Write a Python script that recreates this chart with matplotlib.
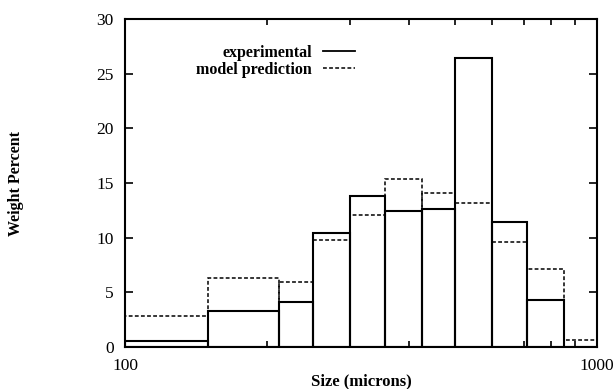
import matplotlib
matplotlib.use("Agg")
import matplotlib.pyplot as plt
from matplotlib.lines import Line2D
from matplotlib.ticker import FixedLocator, NullFormatter, FixedFormatter
import numpy as np

# Sieve bin edges (microns) and weight percent retained in each bin
bin_edges = [100, 150, 212, 250, 300, 355, 425, 500, 600, 710, 850, 1000]
experimental = [0.55, 3.3, 4.1, 10.4, 13.85, 12.4, 12.6, 26.4, 11.4, 4.3, 0.0]
model_prediction = [2.8, 6.35, 5.95, 9.75, 12.1, 15.4, 14.05, 13.2, 9.6, 7.1, 0.65]

y_ticks = [0, 5, 10, 15, 20, 25, 30]
x_major = [100, 1000]
x_major_labels = ["100", "1000"]

plt.rcParams["font.family"] = ["Liberation Serif", "DejaVu Serif"]

fig = plt.figure(figsize=(6.15, 3.89), dpi=100)
ax = fig.add_axes([125 / 615, 42 / 389, 472 / 615, 328 / 389])

edges = np.array(bin_edges, dtype=float)
lefts = edges[:-1]
widths = edges[1:] - edges[:-1]

ax.bar(lefts, model_prediction, width=widths, align="edge", fill=False,
       edgecolor="black", linewidth=1.1, linestyle=(0, (2.5, 1.5)), zorder=2)
ax.bar(lefts, experimental, width=widths, align="edge", fill=False,
       edgecolor="black", linewidth=1.5, linestyle="-", zorder=3)

ax.set_xscale("log")
ax.set_xlim(100, 1000)
ax.set_ylim(0, 30)

ax.xaxis.set_major_locator(FixedLocator(x_major))
ax.xaxis.set_major_formatter(FixedFormatter(x_major_labels))
ax.xaxis.set_minor_locator(FixedLocator([200, 300, 400, 500, 600, 700, 800, 900]))
ax.xaxis.set_minor_formatter(NullFormatter())
ax.yaxis.set_major_locator(FixedLocator(y_ticks))

ax.tick_params(axis="both", which="both", direction="in", top=True, right=True,
               width=1.2, labelsize=12.5)
ax.tick_params(axis="both", which="major", length=6)
ax.tick_params(axis="x", which="minor", length=4)
ax.tick_params(axis="x", which="major", pad=8)
ax.tick_params(axis="y", which="major", pad=8)

for s in ax.spines.values():
    s.set_linewidth(1.5)

ax.set_xlabel("Size (microns)", fontsize=12, fontweight="bold")
ax.xaxis.set_label_coords(0.5, -0.08)
ax.set_ylabel("Weight Percent", fontsize=11.5, fontweight="bold")
ax.yaxis.set_label_coords(-0.214, 0.5)

handles = [
    Line2D([], [], color="black", linewidth=1.3, linestyle="-"),
    Line2D([], [], color="black", linewidth=1.1, linestyle=(0, (2.5, 1.5))),
]
ax.legend(handles, ["experimental", "model prediction"], loc="upper left",
          bbox_to_anchor=(0.12, 0.965), frameon=False, markerfirst=False,
          handlelength=2.0, handletextpad=0.7, labelspacing=0.05,
          prop={"size": 11.5, "weight": "bold"})

fig.savefig("out.png", dpi=100)
